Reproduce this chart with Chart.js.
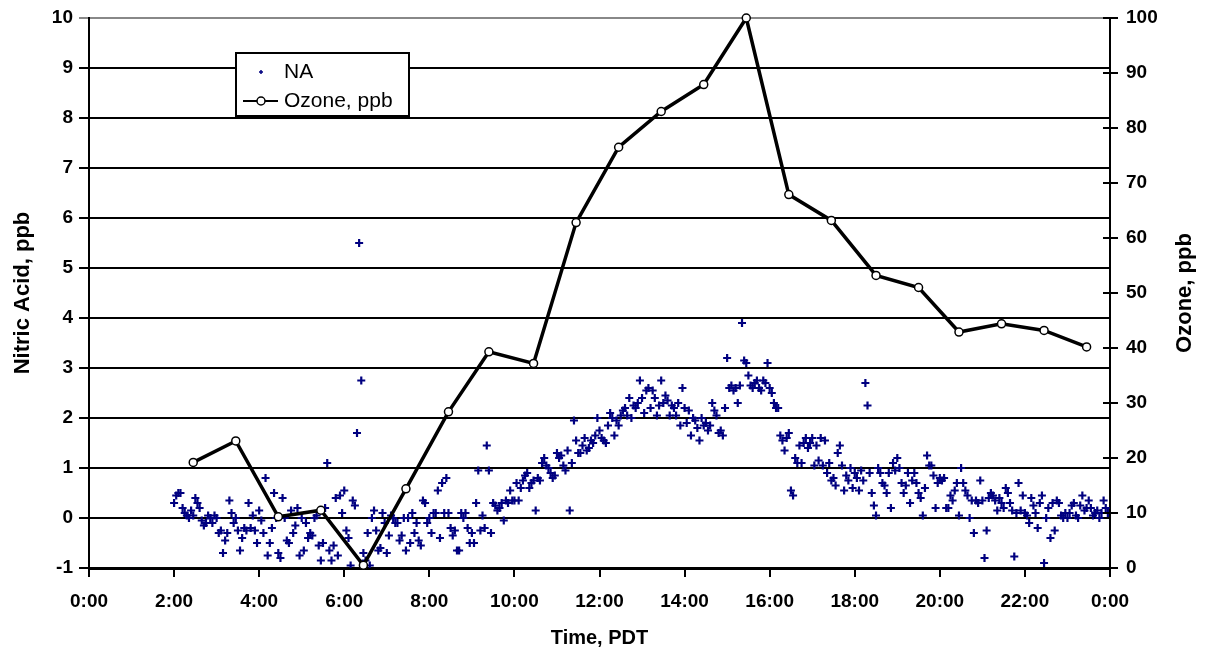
<!DOCTYPE html>
<html>
<head>
<meta charset="utf-8">
<script src="https://cdn.jsdelivr.net/npm/chart.js@4.4.0/dist/chart.umd.min.js"></script>
<style>
  html, body { margin: 0; padding: 0; background: #fff; }
  #wrap { width: 1207px; height: 656px; }
</style>
</head>
<body>
<div id="wrap"><canvas id="naChart" width="1207" height="656"></canvas></div>
<script>
// nitric acid readings, one every 3 minutes starting at 2:00 (hours)
const naStart = 2.0;
const naStep = 0.05;
const naValues = [
  // 2:00
  0.3, 0.45, 0.5, 0.5, 0.2, 0.1, 0.05, 0.0, 0.15, 0.05, 0.4, 0.3, 0.2, -0.05, -0.15, -0.1, 0.05, 0.0, -0.1, 0.05,
  // 3:00
  0.0, -0.3, -0.25, -0.7, -0.45, -0.3, 0.35, 0.1, -0.1, 0.0, -0.25, -0.65, -0.4, -0.2, -0.25, 0.3, -0.2, 0.05, -0.25, -0.5,
  // 4:00
  0.15, -0.05, -0.3, 0.8, -0.75, -0.5, -0.2, 0.5, 0.0, -0.7, -0.8, 0.4, 0.0, -0.45, -0.5, 0.15, -0.3, -0.15, 0.2, -0.75,
  // 5:00
  0.0, -0.65, -0.1, -0.4, -0.3, -0.35, 0.0, 0.05, -0.55, -0.85, -0.5, 0.2, 1.1, -0.65, -0.85, -0.55, 0.4, -0.75, 0.45, 0.1,
  // 6:00
  0.55, -0.25, -0.4, -0.95, 0.35, 0.25, 1.7, 5.5, 2.75, -0.7, -0.85, -0.3, -0.95, 0.0, 0.15, -0.25, -0.65, -0.6, 0.1, -0.1,
  // 7:00
  -0.7, -0.35, 0.05, 0.0, -0.1, -0.1, -0.45, -0.35, 0.0, -0.65, 0.0, -0.5, 0.1, -0.3, -0.1, -0.45, -0.55, 0.35, 0.3, -0.1,
  // 8:00
  0.0, -0.3, 0.1, 0.1, 0.55, -0.4, 0.7, 0.1, 0.8, 0.1, -0.2, -0.35, -0.25, -0.65, -0.65, 0.1, 0.0, 0.1, -0.2, -0.5,
  // 9:00
  -0.3, -0.5, 0.3, 0.95, -0.25, 0.05, -0.2, 1.45, 0.95, -0.3, 0.3, 0.25, 0.15, 0.2, 0.3, -0.05, 0.35, 0.3, 0.55, 0.35,
  // 10:00
  0.35, 0.7, 0.35, 0.6, 0.75, 0.85, 0.9, 0.6, 0.7, 0.75, 0.15, 0.8, 0.75, 1.1, 1.2, 1.05, 1.0, 0.9, 0.8, 0.85,
  // 11:00
  1.3, 1.2, 1.25, 1.05, 0.95, 1.35, 0.15, 1.1, 1.95, 1.55, 1.3, 1.3, 1.45, 1.6, 1.35, 1.4, 1.55, 1.5, 1.65, 2.0,
  // 12:00
  1.75, 1.6, 1.55, 1.5, 1.85, 2.1, 2.0, 1.65, 1.95, 1.85, 2.05, 2.15, 2.2, 2.05, 2.4, 2.0, 2.25, 2.2, 2.3, 2.75,
  // 13:00
  2.4, 2.1, 2.55, 2.6, 2.2, 2.55, 2.4, 2.05, 2.25, 2.75, 2.3, 2.45, 2.35, 2.05, 2.25, 2.2, 2.05, 2.3, 1.85, 2.6,
  // 14:00
  2.2, 1.9, 2.15, 1.65, 2.0, 1.95, 1.8, 1.55, 2.0, 1.85, 1.9, 1.75, 1.85, 2.3, 2.15, 2.05, 1.7, 1.75, 1.65, 2.2,
  // 15:00
  3.2, 2.6, 2.65, 2.55, 2.6, 2.3, 2.65, 3.9, 3.15, 3.1, 2.85, 2.65, 2.6, 2.7, 2.75, 2.6, 2.55, 2.75, 2.7, 3.1,
  // 16:00
  2.6, 2.5, 2.3, 2.2, 2.2, 1.65, 1.55, 1.35, 1.6, 1.7, 0.55, 0.45, 1.2, 1.1, 1.45, 1.1, 1.5, 1.6, 1.4, 1.5,
  // 17:00
  1.6, 1.05, 1.45, 1.15, 1.6, 1.05, 1.55, 0.9, 1.1, 0.75, 0.8, 0.65, 1.3, 1.45, 1.05, 0.55, 0.85, 0.75, 1.0, 0.6,
  // 18:00
  0.9, 0.8, 0.55, 0.95, 0.75, 2.7, 2.25, 0.9, 0.5, 0.25, 0.05, 1.0, 0.9, 0.7, 0.65, 0.5, 0.9, 0.2, 1.1, 0.95,
  // 19:00
  1.2, 1.0, 0.7, 0.5, 0.65, 0.9, 0.3, 0.75, 0.9, 0.7, 0.5, 0.4, 0.05, 0.6, 1.25, 1.05, 1.05, 0.85, 0.2, 0.7,
  // 20:00
  0.8, 0.75, 0.8, 0.2, 0.2, 0.45, 0.35, 0.55, 0.7, 0.05, 1.0, 0.7, 0.55, 0.45, 0.0, 0.35, -0.3, 0.35, 0.3, 0.75,
  // 21:00
  0.35, -0.8, -0.25, 0.4, 0.5, 0.45, 0.35, 0.15, 0.4, 0.3, 0.2, 0.6, 0.5, 0.3, 0.15, -0.77, 0.1, 0.7, 0.15, 0.45,
  // 22:00
  0.1, 0.05, -0.1, 0.4, 0.25, 0.1, -0.2, 0.3, 0.45, -0.9, 0.0, 0.2, -0.4, 0.3, -0.25, 0.35, 0.3, 0.05, 0.0, 0.1,
  // 23:00
  0.0, 0.1, 0.25, 0.3, 0.05, 0.0, 0.25, 0.45, 0.15, 0.2, 0.35, 0.2, 0.05, 0.1, 0.15, 0.0, 0.1, 0.35, 0.2, 0.1
];

// hourly ozone, ppb
const ozoneTimes = [2.45, 3.45, 4.45, 5.45, 6.45, 7.45, 8.45, 9.4, 10.45, 11.45, 12.45, 13.45,
  14.45, 15.45, 16.45, 17.45, 18.5, 19.5, 20.45, 21.45, 22.45, 23.45];
const ozoneValues = [19.2, 23.1, 9.3, 10.5, 0.5, 14.4, 28.4, 39.3, 37.2, 62.8, 76.5, 83.0,
  87.9, 100, 67.9, 63.2, 53.2, 51.0, 42.9, 44.4, 43.2, 40.2];

const timeTicks = [0, 2, 4, 6, 8, 10, 12, 14, 16, 18, 20, 22, 24];
const naTicks = [-1, 0, 1, 2, 3, 4, 5, 6, 7, 8, 9, 10];
const ozoneTicks = [0, 10, 20, 30, 40, 50, 60, 70, 80, 90, 100];

const naPoints = naValues.map((v, i) => ({ x: naStart + i * naStep, y: v }));
const ozonePoints = ozoneTimes.map((t, i) => ({ x: t, y: ozoneValues[i] }));

const fontFam = '"Liberation Sans", Arial, sans-serif';
const tickFont = { family: fontFam, size: 19, weight: 'bold' };

// axis titles and the boxed legend, drawn the way the old spreadsheet did
const extras = {
  id: 'extras',
  afterDraw(chart) {
    const ctx = chart.ctx;
    const area = chart.chartArea;
    ctx.save();
    ctx.fillStyle = '#000';
    ctx.textAlign = 'center';
    ctx.textBaseline = 'middle';
    ctx.font = 'bold 22px ' + fontFam;
    const midY = (area.top + area.bottom) / 2;
    ctx.save();
    ctx.translate(23, midY);
    ctx.rotate(-Math.PI / 2);
    ctx.fillText('Nitric Acid, ppb', 0, 0);
    ctx.restore();
    ctx.save();
    ctx.translate(1185, midY);
    ctx.rotate(-Math.PI / 2);
    ctx.fillText('Ozone, ppb', 0, 0);
    ctx.restore();
    ctx.font = 'bold 20px ' + fontFam;
    ctx.fillText('Time, PDT', (area.left + area.right) / 2, 638);

    // right axis ticks cross the axis line
    const y2 = chart.scales.y2;
    ctx.strokeStyle = '#000';
    ctx.lineWidth = 2;
    ozoneTicks.forEach(v => {
      const py = Math.round(y2.getPixelForValue(v));
      ctx.beginPath();
      ctx.moveTo(area.right - 7, py);
      ctx.lineTo(area.right + 8, py);
      ctx.stroke();
    });

    // legend
    const lx = 236, ly = 53, lw = 173, lh = 63;
    ctx.fillStyle = '#fff';
    ctx.fillRect(lx, ly, lw, lh);
    ctx.lineWidth = 2;
    ctx.strokeRect(lx, ly, lw, lh);
    ctx.strokeStyle = '#000080';
    ctx.lineWidth = 1.5;
    ctx.beginPath();
    ctx.moveTo(259, 72); ctx.lineTo(263, 72);
    ctx.moveTo(261, 70); ctx.lineTo(261, 74);
    ctx.stroke();
    ctx.strokeStyle = '#000';
    ctx.lineWidth = 2;
    ctx.beginPath();
    ctx.moveTo(243, 101); ctx.lineTo(278, 101);
    ctx.stroke();
    ctx.fillStyle = '#fff';
    ctx.lineWidth = 1.5;
    ctx.beginPath();
    ctx.arc(261, 101, 4, 0, Math.PI * 2);
    ctx.fill();
    ctx.stroke();
    ctx.fillStyle = '#000';
    ctx.textAlign = 'left';
    ctx.font = '21px ' + fontFam;
    ctx.fillText(chart.data.datasets[0].label, 284, 72);
    ctx.fillText(chart.data.datasets[1].label, 284, 101);
    ctx.restore();
  }
};

// keep the plot box where the reference has it
const fitY = w => s => { s.width = w; s.paddingTop = 0; s.paddingBottom = 0; };

new Chart(document.getElementById('naChart'), {
  data: {
    datasets: [{
      type: 'scatter',
      label: 'NA',
      data: naPoints,
      yAxisID: 'y',
      pointStyle: 'cross',
      pointRadius: 4,
      pointBorderWidth: 2.2,
      borderColor: '#000080',
      backgroundColor: '#000080',
      order: 1
    }, {
      type: 'line',
      label: 'Ozone, ppb',
      data: ozonePoints,
      yAxisID: 'y2',
      borderColor: '#000',
      borderWidth: 3.5,
      tension: 0,
      pointStyle: 'circle',
      pointRadius: 4,
      pointBorderWidth: 1.5,
      pointBackgroundColor: '#fff',
      pointBorderColor: '#000',
      clip: 8,
      order: 0
    }]
  },
  options: {
    responsive: false,
    animation: false,
    layout: { padding: { top: 18, left: 0, right: 0, bottom: 0 } },
    plugins: {
      legend: { display: false },
      tooltip: { enabled: false }
    },
    scales: {
      x: {
        type: 'linear',
        min: 0,
        max: 24,
        afterBuildTicks: s => { s.ticks = timeTicks.map(v => ({ value: v })); },
        afterFit: s => { s.height = 88; s.paddingLeft = 0; s.paddingRight = 0; },
        ticks: {
          color: '#000',
          font: tickFont,
          padding: 13,
          maxRotation: 0,
          callback: v => (v % 24) + ':00'
        },
        grid: { drawOnChartArea: false, drawTicks: true, tickLength: 9, color: '#000', lineWidth: 2 },
        border: { display: true, color: '#000', width: 3 }
      },
      y: {
        position: 'left',
        min: -1,
        max: 10,
        afterBuildTicks: s => { s.ticks = naTicks.map(v => ({ value: v })); },
        afterFit: fitY(89),
        ticks: { color: '#000', font: tickFont, padding: 6 },
        grid: {
          color: c => (c.tick && c.tick.value === 10) ? '#888' : '#000',
          lineWidth: 2,
          tickLength: 10
        },
        border: { display: true, color: '#000', width: 2 }
      },
      y2: {
        position: 'right',
        min: 0,
        max: 100,
        afterBuildTicks: s => { s.ticks = ozoneTicks.map(v => ({ value: v })); },
        afterFit: fitY(97),
        ticks: { color: '#000', font: tickFont, padding: 16 },
        grid: { drawOnChartArea: false, drawTicks: false },
        border: { display: true, color: '#000', width: 2 }
      }
    }
  },
  plugins: [extras]
});
</script>
</body>
</html>
